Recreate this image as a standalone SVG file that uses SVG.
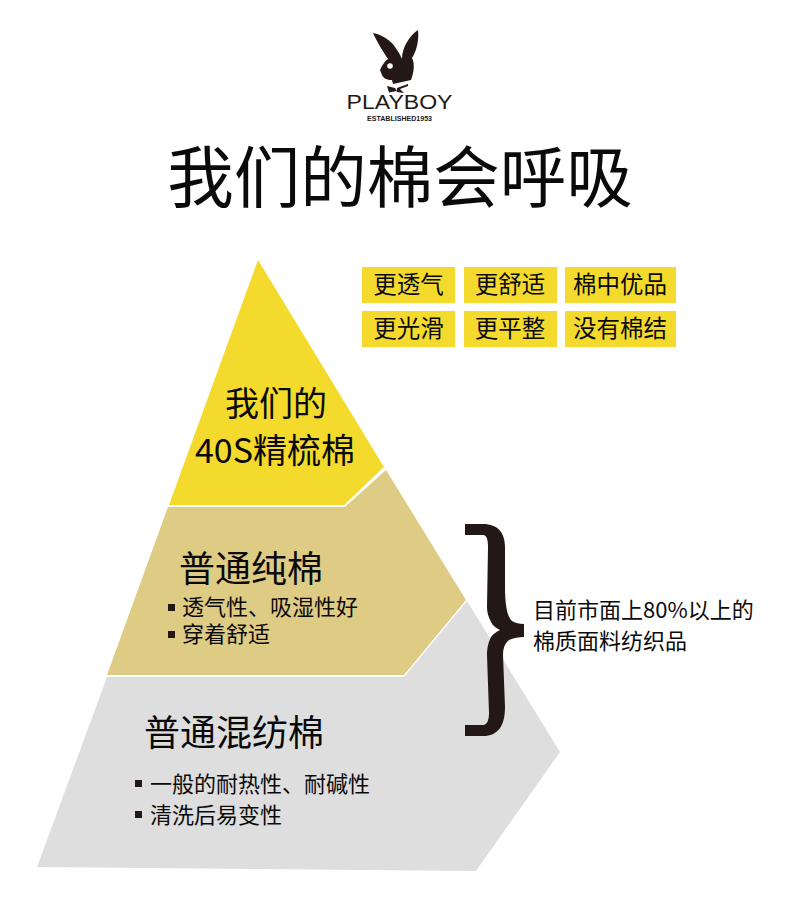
<svg xmlns="http://www.w3.org/2000/svg" width="790" height="900" viewBox="0 0 790 900">
<style>
text{font-family:"Noto Sans CJK SC","Noto Sans CJK JP",sans-serif;fill:#0a0a0a}
.tag{fill:#f3da2d}
.t{font-size:23.500px;text-anchor:middle}
.b{font-size:22px}
.h{font-size:36px}
.m{font-size:34px;text-anchor:middle}
.bul{fill:#231815}
.lg{font-family:"Liberation Sans",sans-serif;fill:#231815;text-anchor:middle}
</style>
<rect width="790" height="900" fill="#fff"/>
<g id="logo">
<path fill="#231815" d="M373 33C385 35 394 44 397 50C400 54 401 57 402 59C402 48 409 36 418 30C419 40 417 50 412 58C415 64 414 72 411 80L393 84L392 80C387 80 383 78 382 75L380 70C382 65 385 61 388 59C384 53 377 42 373 33Z"/>
<circle cx="390" cy="66" r="2.800" fill="#fff"/>
<path fill="#231815" d="M387 86L395 88L397 91L389 92.500ZM397 88L408 84V86L400 89L404 93L397 92Z"/>
<text class="lg" x="399.500" y="109" font-size="20.500" textLength="106" lengthAdjust="spacingAndGlyphs">PLAYBOY</text>
<text class="lg" x="399.500" y="121" font-size="6.500" font-weight="bold" textLength="65" lengthAdjust="spacingAndGlyphs">ESTABLISHED1953</text>
</g>
<text id="title" x="400" y="202" font-size="66.500" text-anchor="middle">我们的棉会呼吸</text>
<g id="layer-bottom">
<path fill="#dedede" d="M467 601L560 752L476 871L37 867L107 677H404Z"/>
<text class="h" x="144" y="746">普通混纺棉</text>
<rect class="bul" x="135" y="780" width="7" height="7"/>
<text class="b" x="150" y="792">一般的耐热性、耐碱性</text>
<rect class="bul" x="135" y="811" width="7" height="7"/>
<text class="b" x="150" y="823">清洗后易变性</text>
</g>
<g id="layer-middle">
<path fill="#decb84" d="M386 470L466 600L404 675H107L168 507H345Z"/>
<text class="h" x="179" y="582">普通纯棉</text>
<rect class="bul" x="168" y="604" width="7" height="7"/>
<text class="b" x="182" y="615">透气性、吸湿性好</text>
<rect class="bul" x="168" y="631" width="7" height="7"/>
<text class="b" x="182" y="642">穿着舒适</text>
</g>
<g id="layer-top">
<path fill="#f3da2d" d="M258 260L384 467L344 505H169Z"/>
<text class="m" x="276" y="416">我们的</text>
<text class="m" x="275" y="463">40S精梳棉</text>
</g>
<g id="tags">
<g id="tag1"><rect class="tag" x="362" y="267" width="93" height="36"/><text class="t" x="408.500" y="293">更透气</text></g>
<g id="tag2"><rect class="tag" x="464" y="267" width="93" height="36"/><text class="t" x="510" y="293">更舒适</text></g>
<g id="tag3"><rect class="tag" x="565" y="267" width="111" height="36"/><text class="t" x="620" y="293">棉中优品</text></g>
<g id="tag4"><rect class="tag" x="362" y="311" width="93" height="36"/><text class="t" x="408.500" y="337">更光滑</text></g>
<g id="tag5"><rect class="tag" x="464" y="311" width="93" height="36"/><text class="t" x="510" y="337">更平整</text></g>
<g id="tag6"><rect class="tag" x="565" y="311" width="111" height="36"/><text class="t" x="620" y="337">没有棉结</text></g>
</g>
<g id="connectors">
<path fill="#231815" d="M465 524H483C498 524 505 533 505 547V587C505 607 508 618 512 621C515 623 519 624 524 624V637C519 637 513 638 509 640C505 643 503 648 503 655L505 707C505 726 498 736 483 736H465V725H483C487 725 489 720 489 713L487 655C487 647 489 641 491 637C493 634 496 632 500 630C496 628 493 626 491 622C488 616 487 612 487 607L488 547C488 540 487 535 483 535H465Z"/>
</g>
<g id="note">
<text class="b" x="533" y="618">目前市面上80%以上的</text>
<text class="b" x="533" y="649">棉质面料纺织品</text>
</g>
</svg>
